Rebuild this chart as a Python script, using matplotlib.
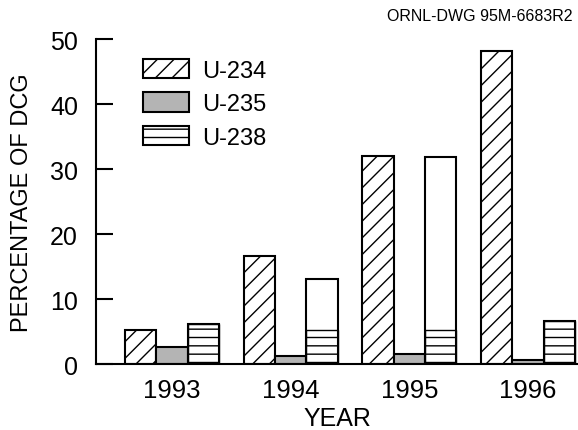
import numpy as np
import matplotlib.pyplot as plt

plt.rcParams['font.family'] = ['Liberation Sans', 'DejaVu Sans']
plt.rcParams['hatch.linewidth'] = 1.0

years = ['1993', '1994', '1995', '1996']
u234 = [5.3, 16.6, 32.0, 48.1]
u235 = [2.7, 1.3, 1.6, 0.7]
u238 = [6.2, 13.1, 31.8, 6.6]
# the original drawing only hatches the lower part of the U-238 bars
u238_hatched = [6.2, 5.2, 5.2, 6.6]

x = np.arange(len(years))
w = 0.2635

fig = plt.figure(figsize=(5.78, 4.31), dpi=100)
ax = fig.add_axes([0.166, 0.153, 0.834, 0.754])

ax.bar(x - w, u234, w, facecolor='white', edgecolor='black', hatch='//', linewidth=1.5, label='U-234')
ax.bar(x, u235, w, facecolor='#b4b4b4', edgecolor='black', linewidth=1.5, label='U-235')
ax.bar(x + w, u238_hatched, w, facecolor='white', edgecolor='black', hatch='--', linewidth=1.0)
ax.bar(x + w, u238, w, facecolor='none', edgecolor='black', linewidth=1.5)
# legend proxy for U-238
ax.bar([0], [0], 0, facecolor='white', edgecolor='black', hatch='--', linewidth=1.5, label='U-238')

ax.set_xlim(-0.64, 3.42)
ax.set_ylim(0, 50)
ax.set_yticks([0, 10, 20, 30, 40, 50])
ax.set_xticks(x)
ax.set_xticklabels(years)
ax.tick_params(axis='y', direction='in', length=12, width=1.5, pad=13, labelsize=18)
ax.tick_params(axis='x', length=0, pad=10, labelsize=18.5)

ax.spines['top'].set_visible(False)
ax.spines['right'].set_visible(False)
ax.spines['left'].set_linewidth(1.5)
ax.spines['bottom'].set_linewidth(1.5)

ax.set_xlabel('YEAR', fontsize=18, labelpad=3)
ax.set_ylabel('PERCENTAGE OF DCG', fontsize=17, labelpad=12)

ax.legend(loc='upper left', bbox_to_anchor=(0.053, 1.005), frameon=False, fontsize=17,
          handlelength=1.95, handleheight=0.9, labelspacing=0.45, handletextpad=0.55)

fig.text(0.99, 0.945, 'ORNL-DWG 95M-6683R2', ha='right', va='bottom', fontsize=11.5)

fig.savefig('out.png', dpi=100)
